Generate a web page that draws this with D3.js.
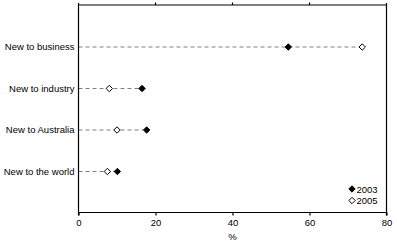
<!DOCTYPE html>
<html><head><meta charset="utf-8">
<script src="https://cdn.jsdelivr.net/npm/d3@7"></script>
<style>body{margin:0;background:#fff}svg{display:block}text{font-family:"Liberation Sans",Arial,sans-serif;fill:#000}</style>
</head><body><svg id="c" width="397" height="246"></svg>
<script>
const categories = ["New to business","New to industry","New to Australia","New to the world"];
const values2003 = [54.5, 16.5, 17.7, 10.1];
const values2005 = [73.7, 8.0, 10.0, 7.5];
const seriesNames = ["2003","2005"];
const xTicks = [0,20,40,60,80];

const svg = d3.select("#c");
const L=78.5, R=386.5, T=5, B=212.5;
const x = d3.scaleLinear().domain([0,80]).range([L,R]);
const y = d3.scaleBand().domain(categories).range([T,B]).paddingOuter(0.5).paddingInner(0);
const yc = c => y(c)+y.bandwidth()/2;

// dashed guide lines
svg.append("g").selectAll("line").data(categories).join("line")
  .attr("x1",L).attr("x2",(c,i)=>x(Math.max(values2003[i],values2005[i])))
  .attr("y1",c=>yc(c)+0.5).attr("y2",c=>yc(c)+0.5)
  .attr("stroke","#808080").attr("stroke-width",1).attr("stroke-dasharray","4,3");

// frame
const fr = svg.append("g").attr("stroke","#000").attr("stroke-width",1.2).attr("fill","none");
fr.append("line").attr("x1",L).attr("x2",R).attr("y1",T).attr("y2",T);
fr.append("line").attr("x1",L).attr("x2",R).attr("y1",B).attr("y2",B);
fr.append("line").attr("x1",L).attr("x2",L).attr("y1",T-2).attr("y2",B+3);
fr.append("line").attr("x1",R).attr("x2",R).attr("y1",T-2).attr("y2",B+3);

// top ticks
svg.append("g").selectAll("line").data(xTicks.slice(1,-1)).join("line")
  .attr("x1",d=>x(d)).attr("x2",d=>x(d)).attr("y1",T-2.5).attr("y2",T)
  .attr("stroke","#000").attr("stroke-width",1.2);

// bottom axis
const ax = svg.append("g").attr("transform",`translate(0,${B})`)
  .call(d3.axisBottom(x).tickValues(xTicks).tickSize(3).tickPadding(4).tickFormat(d3.format("d")));
ax.select(".domain").remove();
ax.selectAll("line").attr("stroke","#000").attr("stroke-width",1.2);
ax.selectAll("text").attr("font-size","9.5px").attr("font-family","Liberation Sans, Arial, sans-serif");

svg.append("text").attr("x",x(40)).attr("y",240).attr("text-anchor","middle").attr("font-size","9.5px").text("%");

// category labels
svg.append("g").selectAll("text").data(categories).join("text")
  .attr("x",L-4).attr("y",c=>yc(c)+3.5).attr("text-anchor","end").attr("font-size","9.5px").text(c=>c);

const sym = d3.symbol().type(d3.symbolDiamond2).size(26);
// 2005 open
svg.append("g").selectAll("path").data(categories).join("path")
  .attr("transform",(c,i)=>`translate(${x(values2005[i])},${yc(c)+0.5})`)
  .attr("d",sym).attr("fill","#fff").attr("stroke","#000").attr("stroke-width",1);
// 2003 filled
svg.append("g").selectAll("path").data(categories).join("path")
  .attr("transform",(c,i)=>`translate(${x(values2003[i])},${yc(c)+0.5})`)
  .attr("d",sym).attr("fill","#000").attr("stroke","#000").attr("stroke-width",1);

// legend
const lg = svg.append("g");
seriesNames.forEach((s,i)=>{
  const yy = 189 + i*11.5;
  lg.append("path").attr("transform",`translate(352,${yy})`).attr("d",sym)
    .attr("fill",i===0?"#000":"#fff").attr("stroke","#000").attr("stroke-width",1);
  lg.append("text").attr("x",356.5).attr("y",yy+3.5).attr("font-size","9.5px").text(s);
});
</script></body></html>
